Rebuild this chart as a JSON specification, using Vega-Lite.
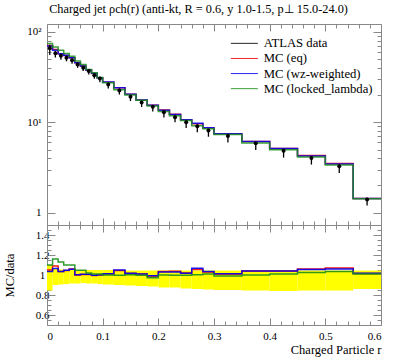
{
  "$schema": "https://vega.github.io/schema/vega-lite/v6.json",
  "background": "white",
  "padding": {"left": 3, "top": 3, "right": 8, "bottom": 1},
  "title": {"text": "Charged jet ρch(r) (anti-kt, R = 0.6, y 1.0-1.5, p⊥ 15.0-24.0)", "anchor": "start", "fontSize": 12.3, "fontWeight": "normal", "font": "Liberation Serif", "offset": 8, "dx": 46, "color": "#000"},
  "spacing": 0,
  "bounds": "flush",
  "config": {
    "font": "Liberation Serif",
    "view": {"stroke": null},
    "axis": {"domainColor": "#888", "tickColor": "#888", "labelColor": "#000", "labelFontSize": 11, "grid": false, "titleFontWeight": "normal", "titleFontSize": 12, "labelFont": "Liberation Serif", "titleFont": "Liberation Serif", "titleColor": "#000"},
    "legend": {"labelFont": "Liberation Serif"}
  },
  "datasets": {
    "main": [
      {"r":0,"eq":71.0,"wz":70,"ll":74.4},
      {"r":0.01,"eq":64.2,"wz":62.7,"ll":68.3},
      {"r":0.02,"eq":57.5,"wz":57.5,"ll":62.8},
      {"r":0.03,"eq":55.0,"wz":55.2,"ll":57.9},
      {"r":0.04,"eq":52.0,"wz":51.9,"ll":54.0},
      {"r":0.05,"eq":45.6,"wz":45.7,"ll":47.8},
      {"r":0.06,"eq":41.9,"wz":42.0,"ll":43.7},
      {"r":0.07,"eq":37.8,"wz":37.9,"ll":38.4},
      {"r":0.08,"eq":34.8,"wz":34.9,"ll":35.4},
      {"r":0.09,"eq":31.1,"wz":31.2,"ll":31.4},
      {"r":0.1,"eq":27.8,"wz":27.9,"ll":27.5},
      {"r":0.12,"eq":24.1,"wz":24.2,"ll":23.0},
      {"r":0.14,"eq":20.4,"wz":20.4,"ll":20.1},
      {"r":0.16,"eq":17.7,"wz":17.7,"ll":17.5},
      {"r":0.18,"eq":15.45,"wz":15.5,"ll":15.2},
      {"r":0.2,"eq":13.65,"wz":13.6,"ll":13.2},
      {"r":0.22,"eq":12.3,"wz":12.2,"ll":11.8},
      {"r":0.24,"eq":10.7,"wz":10.7,"ll":10.5},
      {"r":0.26,"eq":9.62,"wz":9.75,"ll":9.16},
      {"r":0.28,"eq":8.67,"wz":8.7,"ll":8.5},
      {"r":0.3,"eq":7.46,"wz":7.48,"ll":7.31},
      {"r":0.35,"eq":6.15,"wz":6.15,"ll":5.91},
      {"r":0.4,"eq":5.12,"wz":5.12,"ll":4.97},
      {"r":0.45,"eq":4.28,"wz":4.25,"ll":4.13},
      {"r":0.5,"eq":3.49,"wz":3.46,"ll":3.37},
      {"r":0.55,"eq":1.43,"wz":1.435,"ll":1.425},
      {"r":0.6,"eq":1.43,"wz":1.435,"ll":1.425}
    ],
    "ratio": [
      {"r":0,"eq":1.05,"wz":1.035,"ll":1.10},
      {"r":0.01,"eq":1.09,"wz":1.065,"ll":1.16},
      {"r":0.02,"eq":1.035,"wz":1.035,"ll":1.13},
      {"r":0.03,"eq":1.045,"wz":1.048,"ll":1.10},
      {"r":0.04,"eq":1.06,"wz":1.058,"ll":1.10},
      {"r":0.05,"eq":1.0,"wz":1.003,"ll":1.048},
      {"r":0.06,"eq":1.005,"wz":1.007,"ll":1.048},
      {"r":0.07,"eq":1.005,"wz":1.007,"ll":1.02},
      {"r":0.08,"eq":0.995,"wz":0.997,"ll":1.01},
      {"r":0.09,"eq":1.0,"wz":1.003,"ll":1.01},
      {"r":0.1,"eq":1.01,"wz":1.013,"ll":1.0},
      {"r":0.12,"eq":1.045,"wz":1.05,"ll":0.997},
      {"r":0.14,"eq":1.015,"wz":1.017,"ll":1.003},
      {"r":0.16,"eq":1.01,"wz":1.01,"ll":0.997},
      {"r":0.18,"eq":0.99,"wz":0.993,"ll":0.973},
      {"r":0.2,"eq":1.034,"wz":1.03,"ll":1.0},
      {"r":0.22,"eq":1.038,"wz":1.03,"ll":0.997},
      {"r":0.24,"eq":1.02,"wz":1.017,"ll":0.997},
      {"r":0.26,"eq":1.054,"wz":1.068,"ll":1.003},
      {"r":0.28,"eq":1.03,"wz":1.034,"ll":1.01},
      {"r":0.3,"eq":1.01,"wz":1.013,"ll":0.99},
      {"r":0.35,"eq":1.04,"wz":1.04,"ll":1.0},
      {"r":0.4,"eq":1.04,"wz":1.04,"ll":1.01},
      {"r":0.45,"eq":1.06,"wz":1.054,"ll":1.024},
      {"r":0.5,"eq":1.07,"wz":1.06,"ll":1.034},
      {"r":0.55,"eq":1.015,"wz":1.017,"ll":1.01},
      {"r":0.6,"eq":1.015,"wz":1.017,"ll":1.01}
    ],
    "bins": [
      {"lo":0,"hi":0.01,"r":0.005,"v":66,"vlo":55.8,"vhi":72.3,"blo":0.845,"bhi":1.095},
      {"lo":0.01,"hi":0.02,"r":0.015,"v":58,"vlo":52.2,"vhi":61.5,"blo":0.9,"bhi":1.06},
      {"lo":0.02,"hi":0.03,"r":0.025,"v":54.6,"vlo":49.4,"vhi":57.6,"blo":0.905,"bhi":1.055},
      {"lo":0.03,"hi":0.04,"r":0.035,"v":52,"vlo":47.3,"vhi":54.6,"blo":0.91,"bhi":1.05},
      {"lo":0.04,"hi":0.05,"r":0.045,"v":48.6,"vlo":44.5,"vhi":51.0,"blo":0.915,"bhi":1.05},
      {"lo":0.05,"hi":0.06,"r":0.055,"v":43.8,"vlo":40.1,"vhi":46.0,"blo":0.915,"bhi":1.05},
      {"lo":0.06,"hi":0.07,"r":0.065,"v":40.3,"vlo":37.1,"vhi":42.3,"blo":0.92,"bhi":1.05},
      {"lo":0.07,"hi":0.08,"r":0.075,"v":37,"vlo":33.9,"vhi":38.9,"blo":0.915,"bhi":1.05},
      {"lo":0.08,"hi":0.09,"r":0.085,"v":33.1,"vlo":30.3,"vhi":34.8,"blo":0.915,"bhi":1.05},
      {"lo":0.09,"hi":0.1,"r":0.095,"v":30.5,"vlo":27.8,"vhi":32.0,"blo":0.91,"bhi":1.05},
      {"lo":0.1,"hi":0.12,"r":0.11,"v":26.2,"vlo":23.7,"vhi":27.5,"blo":0.905,"bhi":1.05},
      {"lo":0.12,"hi":0.14,"r":0.13,"v":22.5,"vlo":20.3,"vhi":23.6,"blo":0.9,"bhi":1.05},
      {"lo":0.14,"hi":0.16,"r":0.15,"v":19.2,"vlo":17.2,"vhi":20.1,"blo":0.895,"bhi":1.045},
      {"lo":0.16,"hi":0.18,"r":0.17,"v":16.6,"vlo":14.8,"vhi":17.3,"blo":0.89,"bhi":1.045},
      {"lo":0.18,"hi":0.2,"r":0.19,"v":14.9,"vlo":13.2,"vhi":15.6,"blo":0.885,"bhi":1.045},
      {"lo":0.2,"hi":0.22,"r":0.21,"v":12.9,"vlo":11.3,"vhi":13.5,"blo":0.875,"bhi":1.045},
      {"lo":0.22,"hi":0.24,"r":0.23,"v":11.4,"vlo":10.0,"vhi":11.9,"blo":0.875,"bhi":1.045},
      {"lo":0.24,"hi":0.26,"r":0.25,"v":10.0,"vlo":8.65,"vhi":10.45,"blo":0.865,"bhi":1.045},
      {"lo":0.26,"hi":0.28,"r":0.27,"v":9.05,"vlo":7.78,"vhi":9.46,"blo":0.86,"bhi":1.045},
      {"lo":0.28,"hi":0.3,"r":0.29,"v":8.1,"vlo":6.93,"vhi":8.46,"blo":0.855,"bhi":1.045},
      {"lo":0.3,"hi":0.35,"r":0.325,"v":7.05,"vlo":5.99,"vhi":7.37,"blo":0.85,"bhi":1.045},
      {"lo":0.35,"hi":0.4,"r":0.375,"v":5.85,"vlo":4.94,"vhi":6.11,"blo":0.845,"bhi":1.045},
      {"lo":0.4,"hi":0.45,"r":0.425,"v":4.85,"vlo":4.07,"vhi":5.07,"blo":0.84,"bhi":1.045},
      {"lo":0.45,"hi":0.5,"r":0.475,"v":4.03,"vlo":3.41,"vhi":4.21,"blo":0.845,"bhi":1.045},
      {"lo":0.5,"hi":0.55,"r":0.525,"v":3.26,"vlo":2.75,"vhi":3.41,"blo":0.845,"bhi":1.045},
      {"lo":0.55,"hi":0.6,"r":0.575,"v":1.40,"vlo":1.20,"vhi":1.46,"blo":0.86,"bhi":1.045}
    ]
  },
  "vconcat": [
    {
      "width": 334,
      "height": 201,
      "layer": [
        {
          "data": {"name": "main"},
          "transform": [{"fold": ["eq", "wz", "ll"], "as": ["key", "v"]}],
          "mark": {"type": "line", "interpolate": "step-after", "strokeWidth": 1.5, "opacity": 0.85},
          "encoding": {
            "x": {"field": "r", "type": "quantitative", "scale": {"domain": [0, 0.6], "nice": false},
              "axis": {"orient": "bottom", "labels": false, "title": null, "values": [0,0.02,0.04,0.06,0.08,0.1,0.12,0.14,0.16,0.18,0.2,0.22,0.24,0.26,0.28,0.3,0.32,0.34,0.36,0.38,0.4,0.42,0.44,0.46,0.48,0.5,0.52,0.54,0.56,0.58,0.6],
                "tickSize": {"condition": {"test": "abs(datum.value*10-round(datum.value*10))<0.001", "value": -7}, "value": -4}}},
            "y": {"field": "v", "type": "quantitative", "scale": {"type": "log", "domain": [0.73, 122.6], "nice": false},
              "axis": {"orient": "left", "title": null, "values": [1,2,3,4,5,6,7,8,9,10,20,30,40,50,60,70,80,90,100],
                "labelExpr": "datum.value==100?'10²':datum.value==10?'10¹':datum.value==1?'1':''",
                "labelPadding": 14,
                "tickSize": {"condition": {"test": "datum.value==1||datum.value==10||datum.value==100", "value": -8}, "value": -4}}},
            "color": {"field": "key", "type": "nominal",
              "scale": {"domain": ["data", "eq", "wz", "ll"], "range": ["#000000", "#ee0000", "#0000ee", "#1a8f1a"]},
              "legend": {"orient": "none", "legendX": 191, "legendY": 13, "title": null,
                "labelExpr": "datum.label=='data'?'ATLAS data':datum.label=='eq'?'MC (eq)':datum.label=='wz'?'MC (wz-weighted)':'MC (locked_lambda)'",
                "symbolType": "M-3,0L3,0", "symbolSize": 81, "labelOffset": 13, "labelFontSize": 12.7, "rowPadding": 1.1, "symbolStrokeWidth": 1,
                "encode": {"symbols": {
                  "enter": {
                    "shape": {"signal": "datum.value==='data' ? 'M-3,0L3,0M-0.3,-0.45L-0.3,0.45M0,-0.45L0,0.45M0.3,-0.45L0.3,0.45' : 'M-3,0L3,0'"},
                    "strokeWidth": {"signal": "datum.value==='data' ? 1.5 : 1"}},
                  "update": {
                    "shape": {"signal": "datum.value==='data' ? 'M-3,0L3,0M-0.3,-0.45L-0.3,0.45M0,-0.45L0,0.45M0.3,-0.45L0.3,0.45' : 'M-3,0L3,0'"},
                    "strokeWidth": {"signal": "datum.value==='data' ? 1.5 : 1"}}}}}}
          }
        },
        {
          "data": {"name": "bins"},
          "mark": {"type": "rule", "color": "#000", "strokeWidth": 1.3},
          "encoding": {
            "x": {"field": "r", "type": "quantitative", "scale": {"domain": [0, 0.6], "nice": false},
              "axis": {"orient": "top", "labels": false, "title": null, "values": [0,0.02,0.04,0.06,0.08,0.1,0.12,0.14,0.16,0.18,0.2,0.22,0.24,0.26,0.28,0.3,0.32,0.34,0.36,0.38,0.4,0.42,0.44,0.46,0.48,0.5,0.52,0.54,0.56,0.58,0.6],
                "tickSize": {"condition": {"test": "abs(datum.value*10-round(datum.value*10))<0.001", "value": -7}, "value": -4}}},
            "y": {"field": "vlo", "type": "quantitative", "scale": {"type": "log", "domain": [0.73, 122.6], "nice": false},
              "axis": {"orient": "right", "title": null, "labels": false, "values": [1,2,3,4,5,6,7,8,9,10,20,30,40,50,60,70,80,90,100],
                "tickSize": {"condition": {"test": "datum.value==1||datum.value==10||datum.value==100", "value": -8}, "value": -4}}},
            "y2": {"field": "vhi"}
          }
        },
        {
          "data": {"name": "bins"},
          "mark": {"type": "point", "filled": true, "color": "#000", "size": 16, "opacity": 1},
          "encoding": {
            "x": {"field": "r", "type": "quantitative", "scale": {"domain": [0, 0.6], "nice": false}, "axis": null},
            "y": {"field": "v", "type": "quantitative", "scale": {"type": "log", "domain": [0.73, 122.6], "nice": false}, "axis": null}
          }
        }
      ],
      "resolve": {"axis": {"x": "independent", "y": "independent"}}
    },
    {
      "width": 334,
      "height": 100,
      "layer": [
        {
          "data": {"name": "bins"},
          "mark": {"type": "rect", "color": "#ffff00"},
          "encoding": {
            "x": {"field": "lo", "type": "quantitative", "scale": {"domain": [0, 0.6], "nice": false},
              "axis": {"orient": "bottom", "title": "Charged Particle r", "titleAnchor": "end", "titleFontSize": 12.5, "titlePadding": 2,
                "values": [0,0.02,0.04,0.06,0.08,0.1,0.12,0.14,0.16,0.18,0.2,0.22,0.24,0.26,0.28,0.3,0.32,0.34,0.36,0.38,0.4,0.42,0.44,0.46,0.48,0.5,0.52,0.54,0.56,0.58,0.6],
                "labelExpr": "abs(datum.value*10-round(datum.value*10))<0.001 ? (datum.value==0 ? '0' : format(datum.value, '.1f')) : ''",
                "labelPadding": 12,
                "tickSize": {"condition": {"test": "abs(datum.value*10-round(datum.value*10))<0.001", "value": -7}, "value": -4}}},
            "x2": {"field": "hi"},
            "y": {"field": "blo", "type": "quantitative", "scale": {"domain": [0.5, 1.5], "nice": false},
              "axis": {"orient": "left", "title": "MC/data", "titleFontSize": 12.5, "titlePadding": 19,
                "values": [0.5,0.55,0.6,0.65,0.7,0.75,0.8,0.85,0.9,0.95,1,1.05,1.1,1.15,1.2,1.25,1.3,1.35,1.4,1.45,1.5],
                "labelExpr": "abs(datum.value*5-round(datum.value*5))<0.001 && datum.value>0.55 && datum.value<1.45 ? (datum.value==1 ? '1' : format(datum.value, '.1f')) : ''",
                "labelAlign": "center", "labelPadding": 13,
                "tickSize": {"condition": {"test": "abs(datum.value*5-round(datum.value*5))<0.001", "value": -8}, "value": -4}}},
            "y2": {"field": "bhi"}
          }
        },
        {
          "data": {"name": "ratio"},
          "transform": [{"fold": ["eq", "wz", "ll"], "as": ["key", "v"]}],
          "mark": {"type": "line", "interpolate": "step-after", "strokeWidth": 1.5, "opacity": 0.9},
          "encoding": {
            "x": {"field": "r", "type": "quantitative", "scale": {"domain": [0, 0.6], "nice": false},
              "axis": {"orient": "top", "labels": false, "title": null, "values": [0,0.02,0.04,0.06,0.08,0.1,0.12,0.14,0.16,0.18,0.2,0.22,0.24,0.26,0.28,0.3,0.32,0.34,0.36,0.38,0.4,0.42,0.44,0.46,0.48,0.5,0.52,0.54,0.56,0.58,0.6],
                "tickSize": {"condition": {"test": "abs(datum.value*10-round(datum.value*10))<0.001", "value": -7}, "value": -4}}},
            "y": {"field": "v", "type": "quantitative", "scale": {"domain": [0.5, 1.5], "nice": false},
              "axis": {"orient": "right", "title": null, "labels": false,
                "values": [0.5,0.55,0.6,0.65,0.7,0.75,0.8,0.85,0.9,0.95,1,1.05,1.1,1.15,1.2,1.25,1.3,1.35,1.4,1.45,1.5],
                "tickSize": {"condition": {"test": "abs(datum.value*5-round(datum.value*5))<0.001", "value": -8}, "value": -4}}},
            "color": {"field": "key", "type": "nominal", "scale": {"domain": ["data", "eq", "wz", "ll"], "range": ["#000000", "#ee0000", "#0000ee", "#1a8f1a"]}, "legend": null}
          }
        }
      ],
      "resolve": {"axis": {"x": "independent", "y": "independent"}}
    }
  ]
}
